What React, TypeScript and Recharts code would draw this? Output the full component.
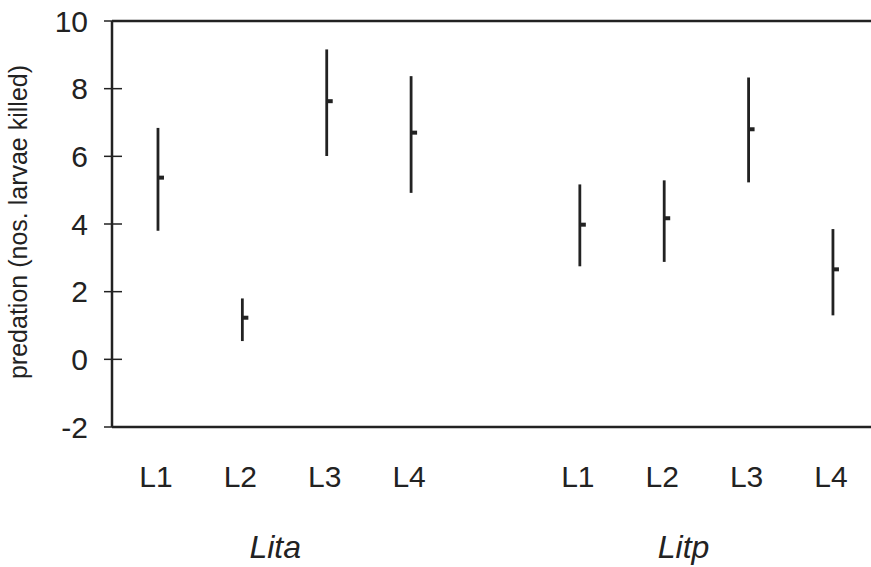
import React from 'react';
import { ScatterChart, Scatter, XAxis, YAxis, ErrorBar, ReferenceLine } from 'recharts';

// larval stages, two species groups with an empty slot between them
const stages = ['L1', 'L2', 'L3', 'L4'];
const groups = ['Lita', 'Litp'];
const groupSlots = [[0, 1, 2, 3], [5, 6, 7, 8]];
const groupLabelPos = [1.39, 6.23];

// mean predation and range (nos. larvae killed)
const litaMean = [5.37, 1.23, 7.63, 6.7];
const litaLow = [3.8, 0.54, 6.01, 4.92];
const litaHigh = [6.84, 1.8, 9.16, 8.37];

const litpMean = [3.98, 4.17, 6.8, 2.66];
const litpLow = [2.75, 2.88, 5.23, 1.3];
const litpHigh = [5.17, 5.29, 8.33, 3.85];

const yTicks = [-2, 0, 2, 4, 6, 8, 10];

const INK = '#222';
const FONT = '"Liberation Sans", Arial, sans-serif';

const build = (slots: number[], mean: number[], low: number[], high: number[]) =>
  slots.map((pos, i) => ({
    pos,
    label: stages[i],
    mean: mean[i],
    err: [mean[i] - low[i], high[i] - mean[i]],
  }));

const data = [
  ...build(groupSlots[0], litaMean, litaLow, litaHigh),
  ...build(groupSlots[1], litpMean, litpLow, litpHigh),
];

const xTicks = [...data.map((d) => d.pos), ...groupLabelPos].sort((a, b) => a - b);

// y tick: a cross mark through the axis plus the number
const YTick = (props: any) => {
  const { x, y, payload } = props;
  const axisX = x + 24;
  return (
    <g>
      <line x1={axisX - 8} x2={axisX + 10} y1={y} y2={y} stroke={INK} strokeWidth={1.5} />
      <text x={x} y={y} dy="0.36em" textAnchor="end" fontSize={30} fontFamily={FONT} fill={INK}>
        {payload.value}
      </text>
    </g>
  );
};

// x tick: stage names under each bar, species names on a second row
const XTick = (props: any) => {
  const { x, y, payload } = props;
  const g = groupLabelPos.indexOf(payload.value);
  if (g >= 0) {
    return (
      <text x={x} y={y + 70} dy="0.72em" textAnchor="middle" fontSize={32} fontStyle="italic" fontFamily={FONT} fill={INK}>
        {groups[g]}
      </text>
    );
  }
  const d = data.find((p) => p.pos === payload.value);
  return (
    <text x={x - 2} y={y} dy="0.72em" textAnchor="middle" fontSize={30} fontFamily={FONT} fill={INK}>
      {d ? d.label : ''}
    </text>
  );
};

const MeanMark = (props: any) => {
  const { cx, cy } = props;
  return <rect x={cx} y={cy - 2} width={6} height={4} fill={INK} />;
};

const App = () => (
  <div style={{ position: 'absolute', left: 0, top: 0, width: 871, height: 567, background: '#fff' }}>
    <ScatterChart width={871} height={567} margin={{ top: 21, right: 0, bottom: 0, left: 0 }}>
      <XAxis
        type="number"
        dataKey="pos"
        domain={[-0.545, 8.451]}
        ticks={xTicks}
        interval={0}
        height={140}
        tickSize={0}
        tickMargin={38}
        axisLine={{ stroke: INK, strokeWidth: 2.5 }}
        tickLine={false}
        tick={<XTick />}
      />
      <YAxis
        type="number"
        dataKey="mean"
        domain={[-2, 10]}
        ticks={yTicks}
        interval={0}
        width={112}
        tickSize={0}
        tickMargin={24}
        axisLine={{ stroke: INK, strokeWidth: 2.5 }}
        tickLine={false}
        tick={<YTick />}
        label={{
          content: () => (
            <text
              transform="translate(27,222) rotate(-90)"
              textAnchor="middle"
              fontSize={25}
              fontFamily={FONT}
              fill={INK}
            >
              predation (nos. larvae killed)
            </text>
          ),
        }}
      />
      <ReferenceLine y={10} stroke={INK} strokeWidth={2.5} />
      <Scatter data={data} dataKey="mean" shape={<MeanMark />} isAnimationActive={false}>
        <ErrorBar dataKey="err" direction="y" width={0} stroke={INK} strokeWidth={2.8} isAnimationActive={false} />
      </Scatter>
    </ScatterChart>
  </div>
);

export default App;
